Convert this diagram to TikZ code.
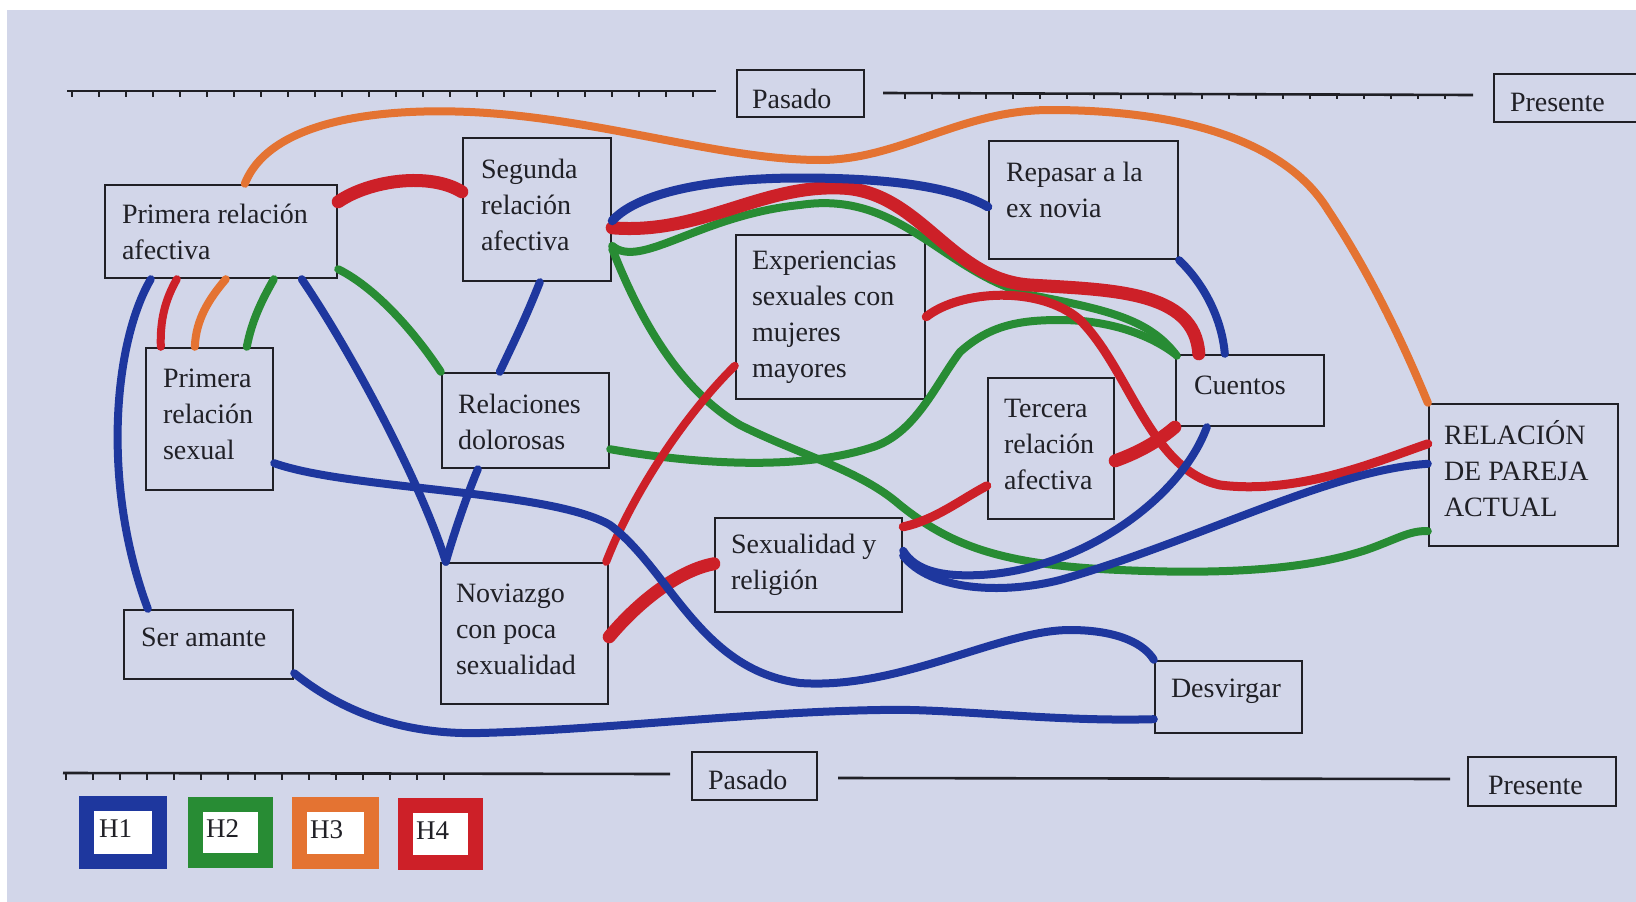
\documentclass[tikz,border=0pt]{standalone}
\usepackage{fontspec}
\setmainfont{Liberation Serif}
\usetikzlibrary{fit}
\definecolor{paper}{RGB}{210,214,233}
\definecolor{ink}{RGB}{32,32,38}
\definecolor{mblue}{RGB}{30,55,158}
\definecolor{mgreen}{RGB}{40,140,52}
\definecolor{morange}{RGB}{228,115,50}
\definecolor{mred}{RGB}{205,32,40}
\begin{document}
\begin{tikzpicture}[x=1pt,y=-1pt,
  frame/.style={draw=ink, line width=2.4pt, inner sep=0pt},
  txt/.style={anchor=west, align=left, inner sep=0pt, text=ink, font=\fontsize{28}{36}\selectfont},
  con/.style={line width=8pt, line cap=round},
  fat/.style={line width=13pt, line cap=round},
  rule/.style={draw=ink, line width=2.6pt},
  tickmark/.style={draw=ink, line width=1.4pt},
  keybox/.style={line width=15pt, fill=white, inner sep=0pt, outer sep=0pt},
  keytxt/.style={anchor=west, inner sep=0pt, text=ink, font=\fontsize{27}{30}\selectfont},
]
\useasboundingbox (0,0) rectangle (1636,902);
\begin{scope}
\clip (0,0) rectangle (1636,902);
\fill[white] (0,0) rectangle (1636,902);
\fill[paper] (7,10) rectangle (1636,902);

% time lines
\draw[rule] (67,91) -- (716,91);
\draw[rule] (883,93) -- (1473,95);
\draw[rule] (63,773) -- (670,774);
\draw[rule] (838,778) -- (1450,779);
\foreach \x in {72,99,...,700} \draw[tickmark] (\x,91) -- (\x,97);
\foreach \x in {905,932,...,1460} \draw[tickmark] (\x,94) -- (\x,99);
\foreach \x in {66,93,...,450} \draw[tickmark] (\x,773) -- (\x,780);

% boxes
\node[frame, fit={(737,70) (864,117)}] (pas1) {};
\node[txt] (pas1-t) at ([xshift=16pt,yshift=-5pt]pas1.west) {Pasado};
\node[frame, fit={(1494,74) (1660,122)}] (pre1) {};
\node[txt] (pre1-t) at ([xshift=17pt,yshift=-4pt]pre1.west) {Presente};
\node[frame, fit={(692,752) (817,800)}] (pas2) {};
\node[txt] (pas2-t) at ([xshift=17pt,yshift=-4pt]pas2.west) {Pasado};
\node[frame, fit={(1468,757) (1616,806)}] (pre2) {};
\node[txt] (pre2-t) at ([xshift=21pt,yshift=-4pt]pre2.west) {Presente};

\node[frame, fit={(105,185) (337,278)}] (pra) {};
\node[txt] (pra-t) at ([xshift=18pt]pra.west) {Primera relación\\afectiva};
\node[frame, fit={(463,138) (611,281)}] (sra) {};
\node[txt] (sra-t) at ([xshift=19pt,yshift=5pt]sra.west) {Segunda\\relación\\afectiva};
\node[frame, fit={(146,348) (273,490)}] (prs) {};
\node[txt] (prs-t) at ([xshift=18pt,yshift=5pt]prs.west) {Primera\\relación\\sexual};
\node[frame, fit={(442,373) (609,468)}] (rd) {};
\node[txt] (rd-t) at ([xshift=17pt,yshift=-1pt]rd.west) {Relaciones\\dolorosas};
\node[frame, fit={(736,235) (925,399)}] (esm) {};
\node[txt] (esm-t) at ([xshift=17pt]esm.west) {Experiencias\\sexuales con\\mujeres\\mayores};
\node[frame, fit={(989,141) (1178,259)}] (rex) {};
\node[txt] (rex-t) at ([xshift=18pt,yshift=10pt]rex.west) {Repasar a la\\ex novia};
\node[frame, fit={(1176,355) (1324,426)}] (cue) {};
\node[txt] (cue-t) at ([xshift=19pt,yshift=5pt]cue.west) {Cuentos};
\node[frame, fit={(988,378) (1114,519)}] (tra) {};
\node[txt] (tra-t) at ([xshift=17pt,yshift=4pt]tra.west) {Tercera\\relación\\afectiva};
\node[frame, fit={(1429,404) (1618,546)}] (rpa) {};
\node[txt] (rpa-t) at ([xshift=16pt,yshift=6pt]rpa.west) {RELACIÓN\\DE PAREJA\\ACTUAL};
\node[frame, fit={(715,518) (902,612)}] (syr) {};
\node[txt] (syr-t) at ([xshift=17pt]syr.west) {Sexualidad y\\religión};
\node[frame, fit={(441,563) (608,704)}] (nov) {};
\node[txt] (nov-t) at ([xshift=16pt,yshift=4pt]nov.west) {Noviazgo\\con poca\\sexualidad};
\node[frame, fit={(124,610) (293,679)}] (sam) {};
\node[txt] (sam-t) at ([xshift=18pt,yshift=7pt]sam.west) {Ser amante};
\node[frame, fit={(1155,661) (1302,733)}] (des) {};
\node[txt] (des-t) at ([xshift=17pt,yshift=6pt]des.west) {Desvirgar};

% legend
\node[keybox, draw=mblue, fit={(86,803) (159,861)}] (h1) {};
\node[keytxt] (h1-t) at ([xshift=13pt,yshift=3pt]h1.west) {H1};
\node[keybox, draw=mgreen, fit={(195,804) (265,860)}] (h2) {};
\node[keytxt] (h2-t) at ([xshift=11pt,yshift=3pt]h2.west) {H2};
\node[keybox, draw=morange, fit={(299,804) (371,861)}] (h3) {};
\node[keytxt] (h3-t) at ([xshift=11pt,yshift=3pt]h3.west) {H3};
\node[keybox, draw=mred, fit={(405,805) (475,862)}] (h4) {};
\node[keytxt] (h4-t) at ([xshift=11pt,yshift=3pt]h4.west) {H4};

% green connectors
\draw[con,mgreen] ([yshift=10pt]pra.south east) .. controls (380,290) and (420,340) .. (rd.north west);
\draw[con,mgreen] ([xshift=170pt]pra.south west) .. controls (262,300) and (252,320) .. ([xshift=102pt]prs.north west);
\draw[con,mgreen] ([yshift=20pt]rd.south east) .. controls (700,465) and (800,470) .. (870,448) .. controls (915,435) and (935,385) .. (960,352) .. controls (990,325) and (1020,320) .. (1060,320) .. controls (1110,320) and (1150,335) .. (cue.north west);
\draw[con,mgreen] ([yshift=-109pt]sra.north east) .. controls (640,270) and (700,215) .. (800,205) .. controls (900,190) and (940,270) .. (1030,295) .. controls (1110,310) and (1150,320) .. ([xshift=2pt,yshift=-2pt]cue.north west);
\draw[con,mgreen] ([yshift=-112pt]sra.north east) .. controls (640,320) and (680,390) .. (740,425) .. controls (800,455) and (860,470) .. (900,505) .. controls (950,545) and (1000,565) .. (1120,570) .. controls (1250,576) and (1320,565) .. (1366,550) .. controls (1395,540) and (1410,530) .. ([yshift=16pt]rpa.south west);

% orange connectors
\draw[con,morange] ([xshift=141pt]pra.north west) .. controls (270,120) and (380,108) .. (470,112) .. controls (600,118) and (720,160) .. (820,160) .. controls (900,160) and (960,110) .. (1050,110) .. controls (1180,110) and (1285,140) .. (1328,210) .. controls (1368,270) and (1402,340) .. (rpa.north west);
\draw[con,morange] ([xshift=122pt]pra.south west) .. controls (208,300) and (196,320) .. ([xshift=50pt]prs.north west);

% red connectors
\draw[fat,mred] ([yshift=-18pt]pra.north east) .. controls (370,180) and (430,172) .. ([yshift=-55pt]sra.north west);
\draw[con,mred] ([xshift=73pt]pra.south west) .. controls (165,300) and (160,320) .. ([xshift=16pt]prs.north west);
\draw[con,mred] ([xshift=-3pt]nov.north east) .. controls (630,500) and (680,420) .. ([yshift=-132pt]esm.north west);
\draw[fat,mred] ([yshift=-75pt]nov.north east) .. controls (640,600) and (680,570) .. ([yshift=-47pt]syr.north west);
\draw[fat,mred] ([yshift=-91pt]sra.north east) .. controls (700,235) and (760,185) .. (840,188) .. controls (920,190) and (950,280) .. (1030,285) .. controls (1110,290) and (1195,290) .. ([xshift=24pt]cue.north west);
\draw[con,mred,line width=9pt] ([yshift=-83pt]esm.north east) .. controls (960,290) and (1040,285) .. (1080,320) .. controls (1130,370) and (1150,470) .. (1220,485) .. controls (1300,495) and (1380,460) .. ([yshift=-41pt]rpa.north west);
\draw[fat,mred] ([yshift=-84pt]tra.north east) .. controls (1140,452) and (1160,440) .. (cue.south west);
\draw[con,mred,line width=9pt] ([yshift=-10pt]syr.north east) .. controls (935,520) and (960,500) .. ([yshift=-109pt]tra.north west);

% blue connectors
\draw[con,mblue] ([xshift=47pt]pra.south west) .. controls (115,340) and (100,480) .. ([xshift=25pt]sam.north west);
\draw[con,mblue] ([xshift=198pt]pra.south west) .. controls (350,350) and (420,480) .. ([xshift=6pt]nov.north west);
\draw[con,mblue] ([xshift=78pt]sra.south west) .. controls (525,320) and (510,350) .. ([xshift=59pt]rd.north west);
\draw[con,mblue] ([xshift=37pt]rd.south west) .. controls (465,500) and (452,540) .. ([xshift=6pt]nov.north west);
\draw[con,mblue] ([yshift=28pt]prs.south east) .. controls (350,490) and (550,490) .. (610,525) .. controls (670,570) and (700,670) .. (800,683) .. controls (900,690) and (1000,630) .. (1070,630) .. controls (1120,630) and (1145,645) .. (des.north west);
\draw[con,mblue] ([yshift=7pt]sam.south east) .. controls (340,710) and (400,735) .. (480,733) .. controls (600,730) and (750,712) .. (880,710) .. controls (950,708) and (1050,722) .. ([yshift=15pt]des.south west);
\draw[con,mblue,line width=9pt] ([yshift=-84pt]sra.north east) .. controls (640,190) and (720,178) .. (800,178) .. controls (880,178) and (950,185) .. ([yshift=-67pt]rex.north west);
\draw[con,mblue] (rex.south east) .. controls (1205,285) and (1222,320) .. ([xshift=50pt]cue.north west);
\draw[con,mblue] ([xshift=32pt]cue.south west) .. controls (1180,500) and (1080,570) .. (980,575) .. controls (940,577) and (915,570) .. ([yshift=-34pt]syr.north east);
\draw[con,mblue] ([yshift=-39pt]syr.north east) .. controls (930,590) and (1000,595) .. (1060,580) .. controls (1200,540) and (1330,470) .. ([yshift=-61pt]rpa.north west);
\end{scope}
\end{tikzpicture}
\end{document}
